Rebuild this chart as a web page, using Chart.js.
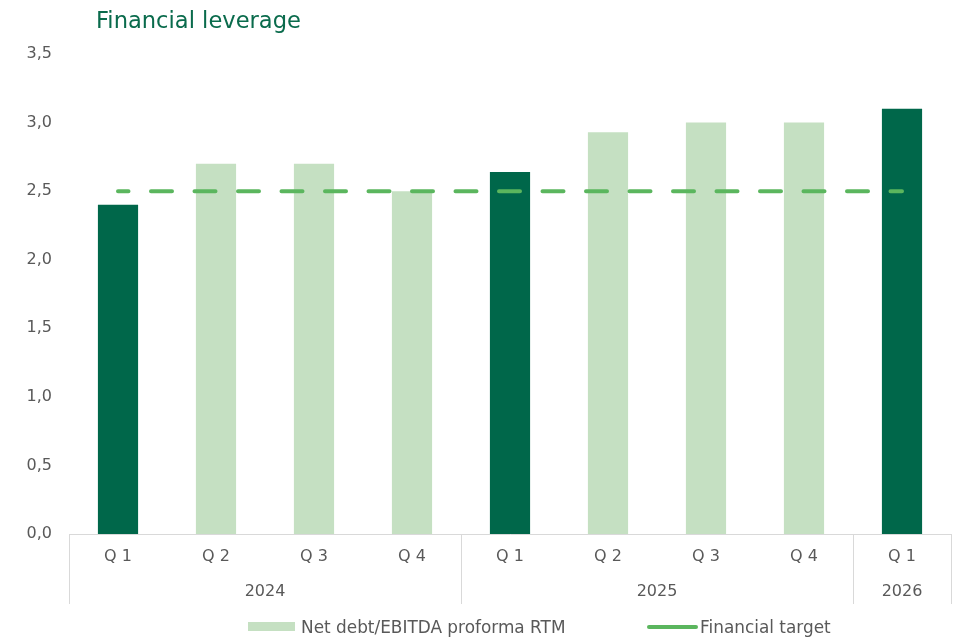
<!DOCTYPE html>
<html>
<head>
<meta charset="utf-8">
<title>Financial leverage</title>
<script src="https://cdn.jsdelivr.net/npm/chart.js@4.4.1/dist/chart.umd.min.js"></script>
<style>
    html, body { margin: 0; padding: 0; background: #fff; }
    #wrap { position: relative; width: 957px; height: 638px; font-family: "DejaVu Sans", Verdana, sans-serif; }
    #title { position: absolute; left: 96px; top: 6px; font-size: 22.6px; line-height: 28px; color: #0a6b4c; }
    .leg { position: absolute; top: 616px; height: 22px; line-height: 22px; font-size: 16.9px; color: #595959; white-space: nowrap; }
    .sw { position: absolute; }
</style>
</head>
<body>
<div id="wrap">
    <canvas id="chart" width="957" height="638"></canvas>
    <div id="title">Financial leverage</div>
    <div class="sw" style="left:248px; top:622px; width:47px; height:9px; background:#c5e0c2;"></div>
    <div class="leg" style="left:301px;">Net debt/EBITDA proforma RTM</div>
    <div class="sw" style="left:647px; top:625px; width:51px; height:4px; border-radius:2px; background:#5bb65e;"></div>
    <div class="leg" style="left:700px;">Financial target</div>
</div>
<script>
// Chart data
const quarters = ['Q 1', 'Q 2', 'Q 3', 'Q 4', 'Q 1', 'Q 2', 'Q 3', 'Q 4', 'Q 1'];
const years = ['2024', '2024', '2024', '2024', '2025', '2025', '2025', '2025', '2026'];
const leverage = [2.40, 2.70, 2.70, 2.50, 2.64, 2.93, 3.00, 3.00, 3.10];
const target = [2.5, 2.5, 2.5, 2.5, 2.5, 2.5, 2.5, 2.5, 2.5];
const yTicks = [0, 0.5, 1, 1.5, 2, 2.5, 3, 3.5];

const DARK = '#00674a';
const LIGHT = '#c5e0c2';
const TARGET = '#5bb65e';
const TEXT = '#595959';
const AXIS = '#d9d9d9';
const FONT = '"DejaVu Sans", Verdana, sans-serif';

// year groups under the quarter labels, with separators
const yearGroups = {
    id: 'yearGroups',
    afterDraw(chart) {
        const x = chart.scales.x;
        const ctx = chart.ctx;
        const half = (x.getPixelForValue(1) - x.getPixelForValue(0)) / 2;
        const top = x.top;
        const bottom = x.bottom;

        ctx.save();
        ctx.strokeStyle = AXIS;
        ctx.lineWidth = 1;
        ctx.fillStyle = TEXT;
        ctx.font = '16px ' + FONT;
        ctx.textAlign = 'center';
        ctx.textBaseline = 'middle';

        let start = 0;
        for (let i = 0; i <= years.length; i++) {
            if (i === years.length || years[i] !== years[start]) {
                const left = x.getPixelForValue(start) - half;
                const right = x.getPixelForValue(i - 1) + half;
                ctx.fillText(years[start], (left + right) / 2, top + 58);
                start = i;
            }
            if (i === 0 || i === years.length || years[i] !== years[i - 1]) {
                const px = Math.round(x.getPixelForValue(i) - half) + 0.5;
                ctx.beginPath();
                ctx.moveTo(px, top);
                ctx.lineTo(px, bottom);
                ctx.stroke();
            }
        }
        ctx.restore();
    }
};

new Chart(document.getElementById('chart').getContext('2d'), {
    data: {
        labels: quarters,
        datasets: [{
            type: 'line',
            label: 'Financial target',
            data: target,
            borderColor: TARGET,
            borderWidth: 4,
            borderDash: [21, 22.5],
            borderDashOffset: 10.5,
            borderCapStyle: 'round',
            pointRadius: 0,
            fill: false,
            order: 0
        }, {
            type: 'bar',
            label: 'Net debt/EBITDA proforma RTM',
            data: leverage,
            backgroundColor: quarters.map(q => q === 'Q 1' ? DARK : LIGHT),
            barPercentage: 0.41,
            categoryPercentage: 1,
            order: 1
        }]
    },
    options: {
        responsive: false,
        animation: false,
        layout: {
            padding: { top: 54, right: 6, bottom: 34, left: 0 }
        },
        scales: {
            x: {
                grid: { display: false, drawTicks: false },
                border: { display: true, color: AXIS, width: 1 },
                ticks: {
                    color: TEXT,
                    font: { family: FONT, size: 16 },
                    padding: 13,
                    maxRotation: 0
                },
                afterFit(scale) { scale.height = 70; }
            },
            y: {
                min: 0,
                max: 3.5,
                afterBuildTicks(scale) {
                    scale.ticks = yTicks.map(v => ({ value: v }));
                },
                grid: { display: false, drawTicks: false },
                border: { display: false },
                ticks: {
                    color: TEXT,
                    font: { family: FONT, size: 16 },
                    padding: 17,
                    callback: v => v.toFixed(1).replace('.', ',')
                },
                afterFit(scale) { scale.width = 69; }
            }
        },
        plugins: {
            legend: { display: false },
            tooltip: { enabled: false },
            title: { display: false }
        }
    },
    plugins: [yearGroups]
});
</script>
</body>
</html>
